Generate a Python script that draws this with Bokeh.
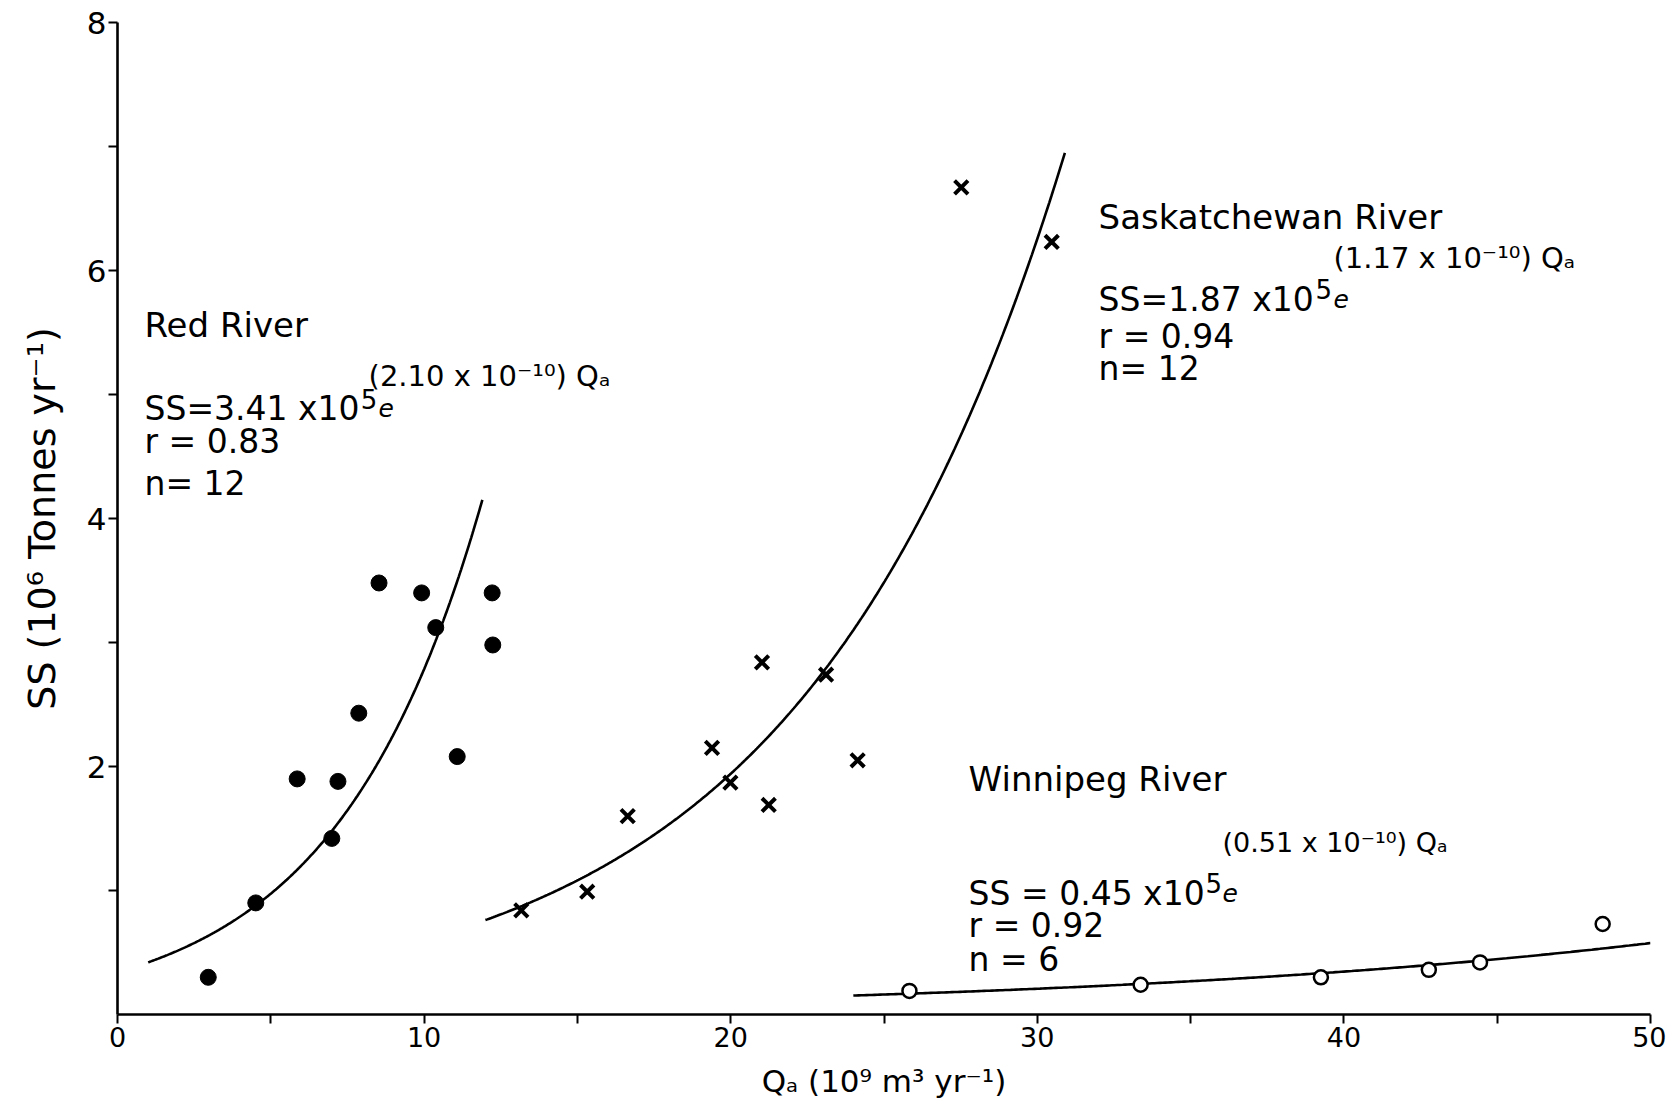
import numpy as np
from bokeh.plotting import figure
from bokeh.models import Range1d, FixedTicker, Label
from bokeh.embed import file_html
from bokeh.resources import INLINE

# ---- data (Qa in 10^9 m^3/yr, SS in 10^6 t/yr) ----
red_q = [2.96, 4.51, 5.86, 6.99, 7.19, 7.87, 8.53, 9.92, 10.38, 11.08, 12.22, 12.24]
red_ss = [0.30, 0.90, 1.90, 1.42, 1.88, 2.43, 3.48, 3.40, 3.12, 2.08, 3.40, 2.98]

sask_q = [13.17, 15.32, 16.64, 19.39, 19.99, 21.02, 21.24, 23.11, 24.14, 27.52, 30.47]
sask_ss = [0.84, 0.99, 1.60, 2.15, 1.87, 2.84, 1.69, 2.74, 2.05, 6.67, 6.23]

winn_q = [25.83, 33.37, 39.25, 42.77, 44.44, 48.44]
winn_ss = [0.19, 0.24, 0.30, 0.36, 0.42, 0.73]

# regression equations printed on the chart: SS = a * e^(b * Qa)
red_fit = (3.41e5, 2.10e-10, 1.0, 11.9)
sask_fit = (1.87e5, 1.17e-10, 12.0, 30.9)
winn_fit = (0.45e5, 0.51e-10, 24.0, 50.0)

x_ticks = [0, 5, 10, 15, 20, 25, 30, 35, 40, 45, 50]
x_labels = {0: "0", 10: "10", 20: "20", 30: "30", 40: "40", 50: "50"}
y_ticks = [1, 2, 3, 4, 5, 6, 7, 8]
y_labels = {2: "2", 4: "4", 6: "6", 8: "8"}

x_title = "Qₐ (10⁹ m³ yr⁻¹)"
y_title = "SS (10⁶ Tonnes yr⁻¹)"

FONT = "DejaVu Sans"

p = figure(width=1666, height=1117, output_backend="svg", toolbar_location=None,
           x_range=Range1d(0, 50), y_range=Range1d(0, 8),
           min_border_left=117, min_border_right=16, min_border_top=22,
           min_border_bottom=103)
p.background_fill_color = "white"
p.border_fill_color = "white"
p.outline_line_color = None
p.grid.visible = False


def fit_curve(fit):
    a, b, lo, hi = fit
    q = np.linspace(lo, hi, 300)
    ss = a * np.exp(b * q * 1e9) / 1e6
    return q, ss


for fit in (red_fit, sask_fit, winn_fit):
    q, ss = fit_curve(fit)
    p.line(q, ss, line_color="black", line_width=2.6)

p.scatter(red_q, red_ss, marker="circle", size=16, fill_color="black", line_color="black")
p.scatter(sask_q, sask_ss, marker="x", size=19, line_color="black", line_width=4)
p.scatter(winn_q, winn_ss, marker="circle", size=14, fill_color="white",
          line_color="black", line_width=2.5)

# axes
for ax in (p.xaxis, p.yaxis):
    ax.axis_line_width = 2.6
    ax.axis_line_color = "black"
    ax.major_tick_line_width = 2
    ax.major_tick_line_color = "black"
    ax.major_tick_in = 0
    ax.major_tick_out = 9
    ax.minor_tick_line_color = None
    ax.major_label_text_font = FONT
    ax.major_label_text_color = "black"
    ax.axis_label_text_font = FONT
    ax.axis_label_text_font_style = "normal"
    ax.axis_label_text_color = "black"

p.xaxis.ticker = FixedTicker(ticks=x_ticks)
p.xaxis.major_label_overrides = {t: x_labels.get(t, "") for t in x_ticks}
p.xaxis.major_label_text_font_size = "27px"
p.xaxis.major_label_standoff = 3
p.xaxis.axis_label = x_title
p.xaxis.axis_label_text_font_size = "31px"
p.xaxis.axis_label_standoff = 13

p.yaxis.ticker = FixedTicker(ticks=y_ticks)
p.yaxis.major_label_overrides = {t: y_labels.get(t, "") for t in y_ticks}
p.yaxis.major_label_text_font_size = "31px"
p.yaxis.major_label_standoff = 2
p.yaxis.axis_label = y_title
p.yaxis.axis_label_text_font_size = "38px"
p.yaxis.axis_label_standoff = 20


def put(x, y, text, size="33px", style="normal"):
    p.add_layout(Label(x=x, y=y, text=text, text_font=FONT, text_font_size=size,
                       text_font_style=style, text_color="black",
                       text_align="left", text_baseline="alphabetic"))


# Red River block
put(0.88, 5.56, "Red River", size="34px")
put(8.19, 5.15, "(2.10 x 10⁻¹⁰) Qₐ", size="29px")
put(0.88, 4.89, "SS=3.41 x10")
put(7.93, 4.96, "5", size="26px")
put(8.51, 4.89, "e", size="25px", style="italic")
put(0.88, 4.62, "r = 0.83")
put(0.88, 4.28, "n= 12")

# Saskatchewan River block
put(32.0, 6.43, "Saskatchewan River", size="34px")
put(39.66, 6.10, "(1.17 x 10⁻¹⁰) Qₐ", size="29px")
put(32.0, 5.77, "SS=1.87 x10")
put(39.07, 5.85, "5", size="26px")
put(39.66, 5.77, "e", size="25px", style="italic")
put(32.0, 5.47, "r = 0.94")
put(32.0, 5.21, "n= 12")

# Winnipeg River block
put(27.76, 1.90, "Winnipeg River", size="34px")
put(36.04, 1.39, "(0.51 x 10⁻¹⁰) Qₐ", size="27px")
put(27.76, 0.976, "SS = 0.45 x10")
put(35.49, 1.06, "5", size="26px")
put(36.04, 0.976, "e", size="25px", style="italic")
put(27.76, 0.72, "r = 0.92")
put(27.76, 0.44, "n = 6")

open("out.html", "w").write(file_html(p, INLINE))
